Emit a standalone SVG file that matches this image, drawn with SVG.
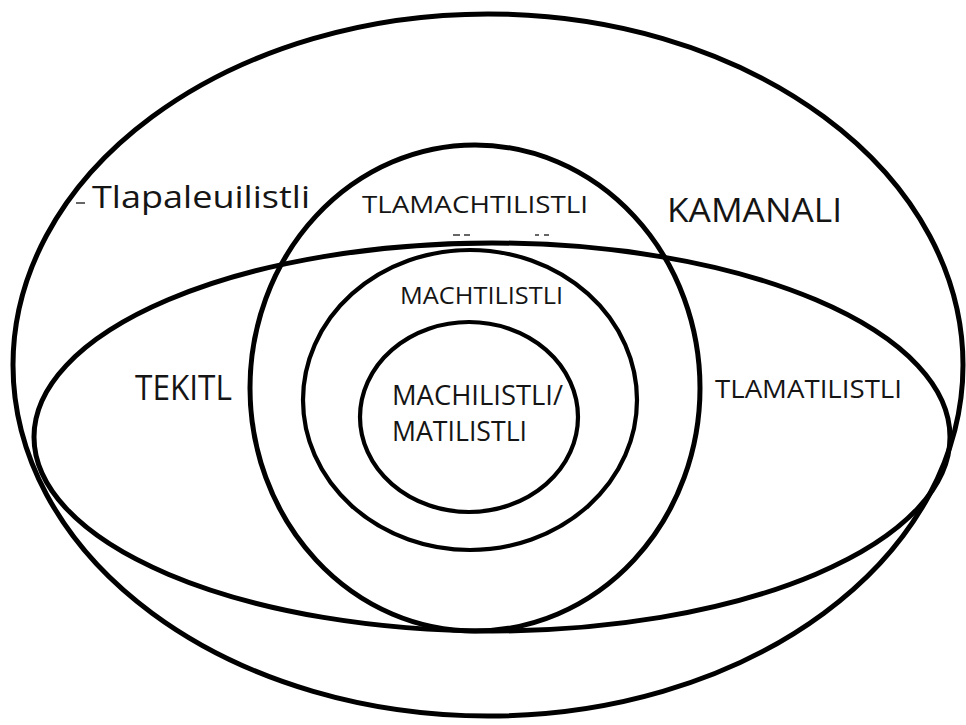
<svg xmlns="http://www.w3.org/2000/svg" width="966" height="725" viewBox="0 0 966 725">
<style>
.ring{fill:none;stroke:#000}
.thick{stroke-width:5}
.thin{stroke-width:4.2}
.lbl{font-family:"Open Sans","Noto Sans","Liberation Sans",sans-serif;fill:#151515}
.mark{stroke:#333;stroke-width:1.5}
</style>
<rect width="966" height="725" fill="#fff"/>
<g id="kamanali">
<ellipse class="ring thick" cx="488" cy="365" rx="475" ry="351"/>
<text class="lbl" x="667" y="222" font-size="33" textLength="175" lengthAdjust="spacingAndGlyphs">KAMANALI</text>
<text class="lbl" x="92" y="208" font-size="31" textLength="218" lengthAdjust="spacingAndGlyphs">Tlapaleuilistli</text>
<line class="mark" x1="76" y1="203" x2="85" y2="203"/>
</g>
<g id="tekitl">
<ellipse class="ring thick" cx="492" cy="437" rx="458" ry="194"/>
<text class="lbl" x="135" y="400" font-size="34" fill="#2a2222" textLength="97" lengthAdjust="spacingAndGlyphs">TEKITL</text>
<text class="lbl" x="715" y="398" font-size="26" textLength="187" lengthAdjust="spacingAndGlyphs">TLAMATILISTLI</text>
</g>
<g id="tlamachtilistli">
<ellipse class="ring thick" cx="475" cy="388" rx="225" ry="243"/>
<text class="lbl" x="362" y="213" font-size="24" textLength="226" lengthAdjust="spacingAndGlyphs">TLAMACHTILISTLI</text>
<line class="mark" x1="453" y1="235" x2="460" y2="235"/>
<line class="mark" x1="464" y1="235" x2="470" y2="235"/>
<line class="mark" x1="535" y1="235" x2="539" y2="235"/>
<line class="mark" x1="544" y1="235" x2="549" y2="235"/>
</g>
<g id="machtilistli">
<ellipse class="ring thin" cx="470" cy="400" rx="167" ry="150"/>
<text class="lbl" x="400" y="304" font-size="23" textLength="163" lengthAdjust="spacingAndGlyphs">MACHTILISTLI</text>
</g>
<g id="machilistli">
<ellipse class="ring thin" cx="469" cy="417" rx="109" ry="95"/>
<text class="lbl" x="392" y="405" font-size="28" textLength="171" lengthAdjust="spacingAndGlyphs">MACHILISTLI/</text>
<text class="lbl" x="392" y="441" font-size="28" textLength="135" lengthAdjust="spacingAndGlyphs">MATILISTLI</text>
</g>
<g id="connectors"/>
</svg>
